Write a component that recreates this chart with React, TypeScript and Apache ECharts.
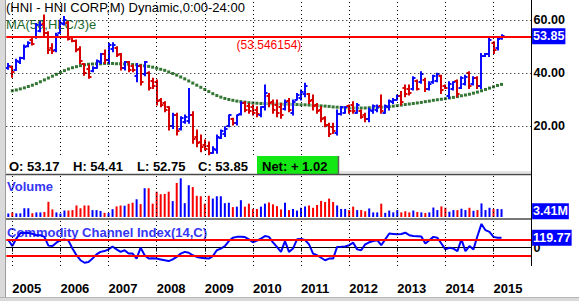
import React, { useEffect, useRef } from 'react';
import * as echarts from 'echarts';

// ---- categories: monthly slots starting Dec 2004 (124 bars + empty room on the right)
const START_YEAR = 2004;
const START_MONTH = 12;
const TOTAL_SLOTS = 131;
const categories: string[] = [];
for (let k = 0; k < TOTAL_SLOTS; k++) {
  const m = START_MONTH - 1 + k;
  const y = START_YEAR + Math.floor(m / 12);
  const mo = (m % 12) + 1;
  categories.push(`${y}-${String(mo).padStart(2, '0')}`);
}
const yearStarts = categories.filter((c) => c.endsWith('-01'));

// ---- monthly OHLC
const opens = [
  42.0, 42.4, 41.0, 44.0, 45.8, 50.2, 52.5, 53.5, 56.0, 58.5,
  55.0, 49.5, 48.5, 55.0, 58.5, 59.0, 53.5, 52.0, 49.0, 43.5,
  41.5, 40.8, 42.0, 44.0, 47.0, 45.0, 49.0, 49.5, 47.0, 42.0,
  44.0, 42.5, 39.0, 42.5, 39.5, 40.0, 37.0, 36.5, 30.0, 28.5,
  27.0, 20.0, 24.0, 19.0, 21.5, 22.0, 24.0, 16.0, 14.0, 13.0,
  12.5, 10.0, 11.0, 15.5, 17.0, 20.0, 22.5, 21.0, 24.5, 28.5,
  27.5, 27.0, 26.0, 24.0, 27.0, 31.5, 29.0, 28.0, 27.0, 26.5,
  29.5, 25.0, 30.0, 30.5, 32.0, 32.0, 30.0, 28.0, 26.0, 23.0,
  20.5, 19.5, 17.5, 24.5, 25.0, 27.5, 28.0, 25.0, 25.5, 24.0,
  22.5, 25.5, 26.0, 27.5, 25.0, 27.0, 29.0, 30.0, 31.5, 34.5,
  34.0, 34.0, 37.0, 36.5, 37.5, 34.0, 36.5, 37.0, 39.0, 35.2,
  31.5, 34.0, 37.0, 34.5, 36.0, 40.0, 36.0, 38.0, 35.0, 46.5,
  47.0, 51.5, 49.5, 53.17,
];
const highs = [
  43.6, 42.6, 45.2, 45.9, 50.6, 51.8, 53.7, 58.7, 59.4, 61.9,
  55.6, 51.0, 55.0, 60.0, 61.3, 59.4, 53.7, 52.5, 49.9, 43.6,
  43.0, 42.4, 44.9, 47.4, 48.7, 51.2, 51.4, 49.9, 47.4, 44.3,
  44.3, 43.0, 43.6, 43.0, 44.3, 40.5, 38.0, 37.4, 30.4, 29.2,
  27.3, 24.8, 24.8, 23.5, 24.2, 34.2, 25.4, 18.5, 16.6, 14.7,
  14.0, 12.2, 16.6, 18.5, 19.7, 24.2, 22.9, 24.2, 29.2, 29.2,
  28.5, 27.9, 27.3, 27.3, 35.5, 32.3, 29.8, 29.8, 28.5, 29.8,
  30.4, 29.8, 32.3, 33.6, 36.1, 32.3, 31.7, 28.5, 27.3, 23.5,
  21.0, 21.0, 26.0, 27.3, 27.3, 27.9, 29.2, 28.5, 26.0, 24.8,
  26.7, 27.9, 27.9, 31.7, 27.9, 29.8, 30.4, 31.7, 33.0, 35.5,
  35.5, 38.6, 37.4, 40.5, 38.0, 36.7, 39.2, 39.9, 39.2, 35.5,
  36.7, 36.7, 37.4, 38.6, 39.2, 40.5, 38.6, 38.6, 47.4, 47.4,
  53.1, 51.8, 53.7, 54.41,
];
const lows = [
  41.4, 38.4, 40.9, 43.6, 45.2, 49.9, 50.6, 53.1, 55.6, 54.0,
  47.4, 47.4, 48.0, 55.0, 58.1, 52.5, 51.8, 48.0, 43.6, 39.2,
  38.0, 40.5, 41.8, 43.6, 43.6, 43.6, 48.0, 46.2, 41.1, 41.1,
  40.5, 40.5, 36.7, 35.5, 39.0, 33.6, 34.2, 27.9, 27.3, 25.4,
  18.5, 19.1, 16.6, 18.5, 21.0, 21.0, 13.5, 12.2, 10.3, 10.9,
  9.1, 9.7, 9.7, 15.3, 16.0, 19.7, 20.4, 20.4, 24.2, 25.4,
  24.8, 24.2, 23.5, 23.5, 26.0, 27.3, 24.8, 23.5, 22.9, 26.0,
  25.4, 24.2, 29.8, 29.8, 31.0, 28.5, 26.0, 24.8, 21.6, 19.7,
  16.0, 17.2, 16.6, 24.2, 24.8, 24.8, 24.8, 24.8, 22.9, 21.6,
  21.6, 24.8, 25.4, 24.8, 24.8, 26.0, 28.5, 29.8, 27.9, 31.0,
  31.7, 33.6, 33.6, 36.1, 33.0, 33.6, 36.1, 36.7, 32.3, 34.2,
  30.4, 33.6, 31.0, 34.2, 35.5, 34.2, 35.5, 34.2, 34.2, 46.2,
  46.2, 47.4, 48.7, 52.75,
];
const closes = [
  42.8, 40.2, 44.5, 45.5, 50.0, 51.5, 51.0, 58.0, 58.2, 55.0,
  48.5, 48.2, 54.5, 59.0, 60.0, 53.0, 52.0, 48.5, 44.5, 40.0,
  38.5, 42.0, 44.5, 47.0, 45.0, 50.5, 50.5, 46.8, 42.0, 44.0,
  41.0, 41.0, 42.5, 36.5, 44.0, 34.5, 35.0, 29.5, 28.0, 26.0,
  20.0, 24.0, 18.0, 23.0, 23.5, 24.0, 15.0, 13.5, 12.0, 11.5,
  10.0, 11.5, 16.0, 18.0, 19.0, 24.0, 21.0, 24.0, 28.5, 26.0,
  25.5, 25.0, 24.5, 27.0, 32.5, 28.5, 26.0, 25.0, 24.0, 29.0,
  26.0, 29.0, 31.8, 33.0, 35.0, 29.5, 27.5, 25.5, 22.5, 20.5,
  17.0, 18.0, 24.5, 27.0, 27.0, 25.5, 25.5, 28.0, 23.5, 22.5,
  26.0, 27.5, 27.0, 25.5, 27.5, 29.5, 30.0, 31.5, 29.0, 32.0,
  32.5, 38.0, 34.0, 39.5, 34.0, 36.0, 39.0, 39.5, 33.5, 34.5,
  36.0, 36.5, 32.0, 38.0, 38.5, 35.0, 38.0, 35.0, 46.5, 47.0,
  52.5, 48.5, 52.83, 53.85,
];

// ---- MA(50,HLC/3)e dotted line
const maValues: (number | null)[] = [
  null, 33.3, 33.6, 34.0, 34.4, 34.9, 35.4, 36.0, 36.7, 37.4,
  38.1, 38.8, 39.5, 40.2, 40.9, 41.5, 42.0, 42.4, 42.8, 43.1,
  43.3, 43.4, 43.5, 43.5, 43.6, 43.6, 43.6, 43.5, 43.5, 43.4,
  43.3, 43.2, 43.1, 42.9, 42.7, 42.5, 42.2, 41.8, 41.4, 41.0,
  40.4, 39.8, 39.2, 38.5, 37.8, 37.0, 36.2, 35.4, 34.6, 33.8,
  33.0, 32.2, 31.5, 30.9, 30.4, 30.0, 29.7, 29.4, 29.2, 29.0,
  28.8, 28.7, 28.6, 28.5, 28.5, 28.4, 28.4, 28.3, 28.3, 28.2,
  28.2, 28.1, 28.1, 28.0, 28.0, 27.9, 27.8, 27.7, 27.6, 27.5,
  27.4, 27.2, 27.1, 27.0, 26.9, 26.8, 26.8, 26.8, 26.8, 26.8,
  26.9, 26.9, 27.0, 27.1, 27.2, 27.3, 27.5, 27.7, 27.9, 28.1,
  28.3, 28.5, 28.7, 28.9, 29.2, 29.4, 29.7, 29.9, 30.1, 30.3,
  30.6, 30.8, 31.1, 31.4, 31.7, 32.0, 32.4, 32.8, 33.3, 33.8,
  34.3, 34.8, 35.3, 35.7,
];

// ---- volume (millions)
const volumes = [
  1.5, 2.0, 1.6, 1.6, 3.8, 3.8, 1.6, 2.0, 2.0, 2.2,
  6.6, 3.3, 2.0, 1.5, 2.8, 2.8, 3.0, 5.0, 3.8, 5.0,
  5.0, 3.0, 3.0, 2.6, 1.8, 1.7, 3.4, 4.6, 5.0, 4.9,
  5.8, 6.2, 7.7, 5.6, 12.5, 12.5, 5.8, 11.0, 9.9, 10.0,
  11.0, 6.9, 14.8, 16.8, 6.0, 13.8, 13.0, 9.2, 9.0, 5.8,
  9.2, 8.0, 9.0, 9.0, 6.0, 6.2, 4.3, 4.5, 7.3, 4.5,
  5.8, 3.5, 3.5, 4.5, 5.8, 6.3, 5.5, 4.7, 3.3, 6.2,
  3.0, 3.5, 2.8, 4.0, 4.6, 5.0, 4.0, 5.2, 7.0, 6.5,
  8.0, 6.5, 5.0, 3.5, 3.5, 3.0, 4.5, 3.0, 3.0, 2.5,
  3.7, 2.0, 2.0, 5.8, 1.8, 2.8, 2.0, 3.0, 2.0, 2.5,
  2.0, 2.8, 2.2, 2.0, 1.7, 2.0, 4.1, 3.0, 4.6, 4.0,
  2.3, 3.0, 3.0, 3.6, 3.0, 4.0, 2.7, 3.0, 5.9, 3.0,
  4.0, 3.5, 3.5, 3.41,
];

// ---- Commodity Channel Index(14,C)
const cci = [
  92, 20, 110, 175, 180, 175, 168, 150, 150, 130,
  25, 20, 60, 90, 100, 85, -10, -90, -150, -180,
  -170, -130, -80, -50, -40, -20, 15, -20, -50, -30,
  -70, -70, -130, 0, -90, -130, -125, -130, -140, -150,
  -160, -140, -110, -70, -50, -60, -90, -110, -120, -125,
  -130, -100, -30, -10, 20, 80, 120, 130, 130, 128,
  100, 65, 85, 110, 140, 130, 65, 10, -50, 80,
  -50, -10, 100, 105, 92, 40, -70, -90, -120, -150,
  -130, -130, 10, 12, 15, 30, 60, -20, -30, 40,
  65, 80, 90, 30, 100, 170, 165, 160, 165, 180,
  150, 140, 138, 135, 50, 90, 130, 120, 50, -20,
  0, -10, -40, 100, -40, 20, -20, 140, 285, 210,
  190, 130, 120, 119.77,
];

const priceTicks = [20, 40, 60];
const resistance = 53.546154;
const lastClose = 53.85;
const lastVolume = 3.41;
const lastCci = 119.77;
const cciBands = [100, -100];

const FONT = '"Liberation Sans", Arial, sans-serif';
const BLUE = '#0a0aff';
const RED = '#d60000';
const VBLUE = '#0000ff';
const VRED = '#f80000';
const DOT = { color: '#000', width: 1, type: [1, 3] as any };
const HIDDEN_LINE = { color: 'rgba(0,0,0,0)', width: 0, type: 'solid' };

const GL = 6.3;
const GW = 525.3;

const boxLabel = (text: string, offset: number[] = [0, 0]) => ({
  show: true,
  position: 'end',
  formatter: text,
  color: '#fff',
  backgroundColor: '#0000ff',
  fontSize: 12.5,
  fontWeight: 'bold',
  fontFamily: FONT,
  padding: [2, 1, 1, 1],
  distance: 0.5,
  offset,
});

export default function App() {
  const ref = useRef<HTMLDivElement>(null);
  useEffect(() => {
    if (!ref.current) return;
    const chart = echarts.init(ref.current, null, { renderer: 'svg' });
    const yearLines = yearStarts.map((c) => ({ xAxis: c, lineStyle: DOT }));
    const isJan = (idx: number) => !!categories[idx] && categories[idx].endsWith('-01');

    const ohlcData = opens.map((o, i) => [i, o, highs[i], lows[i], closes[i]]);
    const maData: number[][] = [];
    maValues.forEach((v, i) => {
      if (v != null) maData.push([i, v]);
    });

    const hiddenX = (gi: number) => ({
      type: 'category',
      gridIndex: gi,
      data: categories,
      boundaryGap: true,
      axisLine: { show: false },
      axisTick: { show: false },
      axisLabel: { show: false },
      splitLine: { show: false },
    });

    const option: any = {
      animation: false,
      backgroundColor: '#fff',
      grid: [
        { left: GL, top: 0, width: GW, height: 155 },
        { left: GL, top: 176, width: GW, height: 41 },
        { left: GL, top: 220, width: GW, height: 46 },
      ],
      xAxis: [
        hiddenX(0),
        hiddenX(1),
        {
          type: 'category',
          gridIndex: 2,
          data: categories,
          boundaryGap: true,
          axisLine: { show: true, lineStyle: { color: '#000', width: 1 } },
          axisTick: {
            show: true,
            interval: (idx: number) => isJan(idx),
            alignWithLabel: true,
            length: 4,
            lineStyle: { color: '#000' },
          },
          axisLabel: {
            show: true,
            interval: (idx: number) => isJan(idx),
            formatter: (v: string) => v.slice(0, 4),
            align: 'left',
            margin: 16,
            color: '#000',
            fontSize: 13,
            fontWeight: 'bold',
            fontFamily: FONT,
          },
          splitLine: { show: false },
        },
      ],
      yAxis: [
        {
          type: 'value',
          gridIndex: 0,
          position: 'right',
          min: 9.06,
          max: 67.55,
          splitNumber: 3,
          axisLine: { show: false },
          axisTick: { show: false },
          splitLine: { show: false },
          axisLabel: {
            margin: 2,
            color: '#000',
            fontSize: 12.5,
            fontWeight: 'bold',
            fontFamily: FONT,
            formatter: (v: number) =>
              priceTicks.some((t) => Math.abs(t - v) < 1e-6) ? v.toFixed(2) : '',
          },
        },
        {
          type: 'value',
          gridIndex: 1,
          position: 'right',
          min: 0,
          max: 17.8,
          axisLine: { show: false },
          axisTick: { show: false },
          splitLine: { show: false },
          axisLabel: { show: false },
        },
        {
          type: 'value',
          gridIndex: 2,
          position: 'right',
          min: -219,
          max: 332,
          axisLine: { show: false },
          axisTick: { show: false },
          splitLine: { show: false },
          axisLabel: {
            margin: 2,
            color: '#000',
            fontSize: 12.5,
            fontWeight: 'bold',
            fontFamily: FONT,
            formatter: (v: number) => (Math.abs(v) < 1e-6 ? '0' : ''),
          },
        },
      ],
      series: [
        {
          type: 'scatter',
          name: 'MA',
          xAxisIndex: 0,
          yAxisIndex: 0,
          z: 3,
          silent: true,
          symbol: 'rect',
          symbolSize: 3,
          itemStyle: { color: '#005400' },
          data: maData,
          markLine: {
            silent: true,
            symbol: ['none', 'none'],
            label: { show: false },
            data: [
              ...yearLines,
              ...priceTicks.map((v) => ({ yAxis: v, lineStyle: DOT })),
              {
                yAxis: resistance,
                lineStyle: { color: '#ff0000', width: 2, type: 'solid' },
                label: {
                  show: true,
                  position: 'insideMiddleBottom',
                  formatter: `(${resistance})`,
                  color: '#ff0000',
                  fontSize: 12,
                  fontFamily: FONT,
                  distance: 2,
                },
              },
              {
                yAxis: lastClose,
                lineStyle: HIDDEN_LINE,
                label: boxLabel(lastClose.toFixed(2)),
              },
            ],
          },
        },
        {
          type: 'custom',
          name: 'HNI',
          xAxisIndex: 0,
          yAxisIndex: 0,
          z: 4,
          silent: true,
          data: ohlcData,
          encode: { x: 0, y: [1, 2, 3, 4] },
          renderItem: (_params: any, api: any) => {
            const idx = api.value(0);
            const o = api.value(1);
            const h = api.value(2);
            const l = api.value(3);
            const c = api.value(4);
            const ph = api.coord([idx, h]);
            const pl = api.coord([idx, l]);
            const po = api.coord([idx, o]);
            const pc = api.coord([idx, c]);
            const x = Math.round(ph[0]);
            const color = c >= o ? BLUE : RED;
            const st = { stroke: color, lineWidth: 2 };
            const yo = Math.round(po[1]);
            const yc = Math.round(pc[1]);
            return {
              type: 'group',
              children: [
                { type: 'line', shape: { x1: x, y1: ph[1] - 0.5, x2: x, y2: pl[1] + 0.5 }, style: st },
                { type: 'line', shape: { x1: x - 2.5, y1: yo, x2: x, y2: yo }, style: st },
                { type: 'line', shape: { x1: x, y1: yc, x2: x + 2.5, y2: yc }, style: st },
              ],
            };
          },
        },
        {
          type: 'bar',
          name: 'Volume',
          xAxisIndex: 1,
          yAxisIndex: 1,
          barWidth: 2,
          silent: true,
          data: volumes.map((v, i) => ({
            value: v,
            itemStyle: { color: closes[i] >= opens[i] ? VBLUE : VRED },
          })),
          markLine: {
            silent: true,
            symbol: ['none', 'none'],
            label: { show: false },
            data: [
              ...yearLines,
              {
                yAxis: lastVolume,
                lineStyle: HIDDEN_LINE,
                label: boxLabel(`${lastVolume.toFixed(2)}M`, [0, 2]),
              },
            ],
          },
        },
        {
          type: 'line',
          name: 'CCI',
          xAxisIndex: 2,
          yAxisIndex: 2,
          z: 4,
          silent: true,
          showSymbol: false,
          lineStyle: { color: '#0000ff', width: 2 },
          itemStyle: { color: '#0000ff' },
          data: cci,
          markLine: {
            silent: true,
            symbol: ['none', 'none'],
            label: { show: false },
            data: [
              ...yearLines,
              { yAxis: 0, lineStyle: DOT },
              ...cciBands.map((v) => ({
                yAxis: v,
                lineStyle: { color: '#ff0000', width: 2, type: 'solid' },
              })),
              {
                yAxis: lastCci,
                lineStyle: HIDDEN_LINE,
                label: boxLabel(lastCci.toFixed(2)),
              },
            ],
          },
        },
      ],
      graphic: [
        // titles (under the bars)
        {
          type: 'text', x: 6, y: 7, z: 1, silent: true,
          style: { text: '(HNI - HNI CORP,M) Dynamic,0:00-24:00', fill: '#000', fontSize: 13, fontFamily: FONT, verticalAlign: 'middle' },
        },
        {
          type: 'text', x: 6, y: 24, z: 1, silent: true,
          style: { text: 'MA(50,HLC/3)e', fill: '#22692e', fontSize: 13, fontFamily: FONT, verticalAlign: 'middle' },
        },
        // info row
        { type: 'rect', shape: { x: 6, y: 155.5, width: 525, height: 18 }, style: { fill: '#fff' }, z: 20, silent: true },
        ...[
          ['O: 53.17', 9],
          ['H: 54.41', 73],
          ['L: 52.75', 137],
          ['C: 53.85', 198],
        ].map(([t, x]) => ({
          type: 'text', x, y: 166, z: 21, silent: true,
          style: { text: t, fill: '#000', fontSize: 13, fontWeight: 'bold', fontFamily: FONT, verticalAlign: 'middle' },
        })),
        { type: 'rect', shape: { x: 257, y: 156, width: 81, height: 18 }, style: { fill: '#14e814' }, z: 21, silent: true },
        { type: 'line', shape: { x1: 338.5, y1: 156, x2: 338.5, y2: 174 }, style: { stroke: '#606060', lineWidth: 1.5 }, z: 22, silent: true },
        {
          type: 'text', x: 262, y: 166, z: 22, silent: true,
          style: { text: 'Net: + 1.02', fill: '#000', fontSize: 13, fontWeight: 'bold', fontFamily: FONT, verticalAlign: 'middle' },
        },
        // separators
        { type: 'line', shape: { x1: 339, y1: 172, x2: 531, y2: 172 }, style: { stroke: '#c8c8c8', lineWidth: 1 }, z: 22, silent: true },
        { type: 'line', shape: { x1: 6, y1: 174.5, x2: 531, y2: 174.5 }, style: { stroke: '#4a4a4a', lineWidth: 1.5 }, z: 22, silent: true },
        { type: 'line', shape: { x1: 6, y1: 219, x2: 531, y2: 219 }, style: { stroke: '#4a4a4a', lineWidth: 1.5 }, z: 22, silent: true },
        // right border
        { type: 'line', shape: { x1: 531.5, y1: 0, x2: 531.5, y2: 266 }, style: { stroke: '#000', lineWidth: 1 }, z: 22, silent: true },
        // panel labels
        {
          type: 'text', x: 7, y: 186, z: 1, silent: true,
          style: { text: 'Volume', fill: '#3535f5', fontSize: 13, fontWeight: 'bold', fontFamily: FONT, verticalAlign: 'middle' },
        },
        {
          type: 'text', x: 7, y: 232, z: 1, silent: true,
          style: { text: 'Commodity Channel Index(14,C)', fill: '#3535f5', fontSize: 13, fontWeight: 'bold', fontFamily: FONT, verticalAlign: 'middle' },
        },
        // window frame
        { type: 'rect', shape: { x: 0, y: 0, width: 5, height: 301 }, style: { fill: '#dadada' }, z: 30, silent: true },
        { type: 'line', shape: { x1: 5.5, y1: 0, x2: 5.5, y2: 301 }, style: { stroke: '#9c9c9c', lineWidth: 1 }, z: 30, silent: true },
        { type: 'rect', shape: { x: 0, y: 297, width: 579, height: 4 }, style: { fill: '#dadada' }, z: 30, silent: true },
        { type: 'line', shape: { x1: 0, y1: 297.5, x2: 579, y2: 297.5 }, style: { stroke: '#b4b4b4', lineWidth: 1 }, z: 30, silent: true },
      ],
    };
    chart.setOption(option);
    return () => chart.dispose();
  }, []);
  return (
    <div
      ref={ref}
      style={{ position: 'fixed', left: 0, top: 0, width: 579, height: 301, background: '#fff' }}
    />
  );
}
